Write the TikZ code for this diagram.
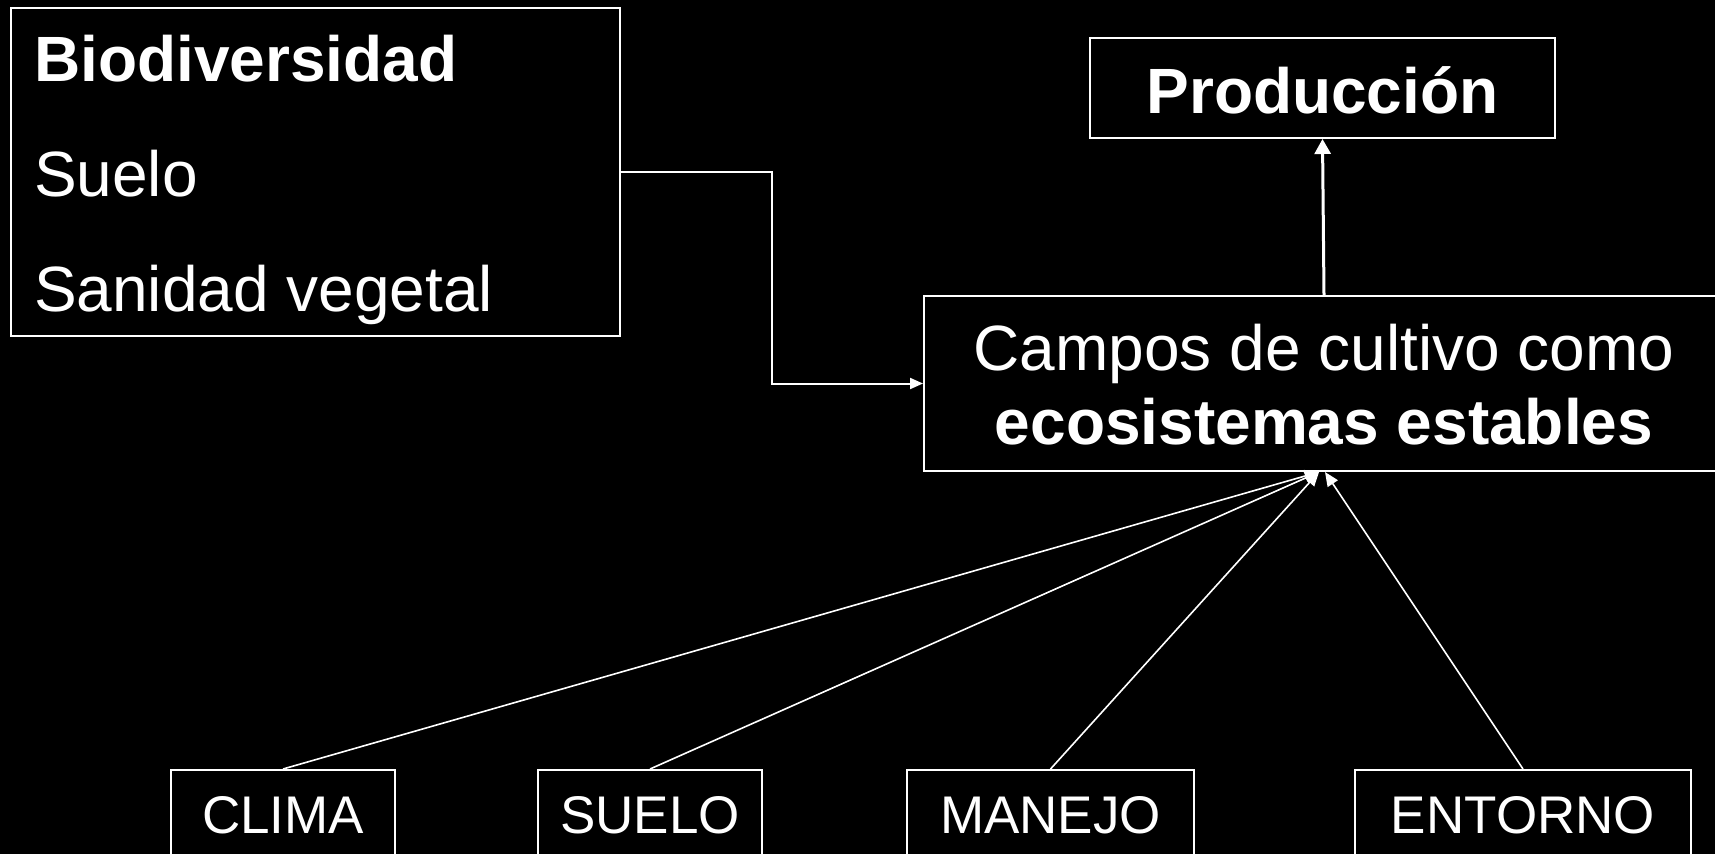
\documentclass[tikz,border=0pt]{standalone}
\usepackage{fontspec}
\setmainfont{Liberation Sans}
\usetikzlibrary{arrows.meta,calc}
\begin{document}
\begin{tikzpicture}[x=1pt,y=-1pt,
  box/.style={draw=white,line width=2pt,inner sep=0pt,text=white},
  big/.style={font=\fontsize{64}{74}\selectfont},
  small/.style={font=\fontsize{53}{60}\selectfont},
  bottombox/.style={box,small,anchor=north,text height=63pt,text depth=57pt},
  conn/.style={draw=white,line width=1.6pt,-{Triangle[length=14pt,width=12pt]}},
]
\useasboundingbox (0,0) rectangle (1715,854);
\fill[black] (0,0) rectangle (1715,854);
\clip (0,0) rectangle (1715,854);

\node[box,anchor=north west] (bio) at (10,7)
  {\parbox[t][328pt][t]{609pt}{\fontsize{64}{115}\selectfont\raggedright\leftskip=23pt
   \rule{0pt}{73pt}\textbf{Biodiversidad}\\Suelo\\Sanidad vegetal}};

\node[box,anchor=north west] (campos) at (923,295)
  {\parbox[t][175pt][t]{800pt}{\centering\fontsize{64}{74}\selectfont
   \rule{0pt}{74pt}Campos de cultivo como\\\textbf{ecosistemas estables}}};

\node[box,big,minimum width=465pt,text height=75pt,text depth=25pt] (prod) at (1322.5,88) {\textbf{Producción}};

\node[bottombox,minimum width=224pt] (clima) at (283,769) {CLIMA};
\node[bottombox,minimum width=224pt] (suelo) at (650,769) {SUELO};
\node[bottombox,minimum width=287pt] (manejo) at (1050.5,769) {MANEJO};
\node[bottombox,minimum width=336pt] (entorno) at (1523,769) {ENTORNO};

\coordinate (tipL) at ($(campos.south)+(-5,0)$);
\coordinate (tipR) at ($(campos.south)+(1,0)$);

\draw[conn] (clima.north) -- (tipL);
\draw[conn] (suelo.north) -- (tipL);
\draw[conn] (manejo.north) -- (tipL);
\draw[conn] (entorno.north) -- (tipR);

\draw[draw=white,line width=3pt,-{Triangle[length=15pt,width=16pt]}] (campos.north) -- (prod.south);
\draw[draw=white,line width=2pt,-{Triangle[length=13pt,width=11pt]}] (bio.east) -| ($(bio.east)!0.5!(campos.west)$) |- (campos.west);
\end{tikzpicture}
\end{document}
